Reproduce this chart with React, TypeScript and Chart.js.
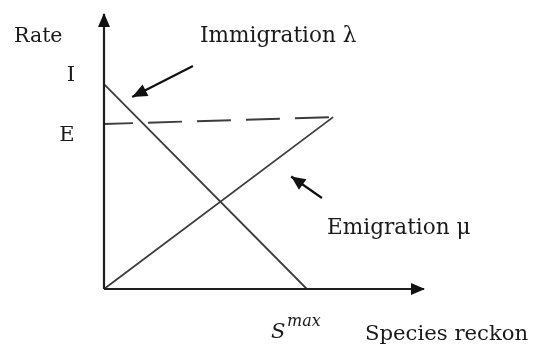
import React, { useEffect, useRef } from "react";
import { Chart, registerables } from "chart.js";

Chart.register(...registerables);

// Data (x = species count, y = rate), in chart units
const immigration = [
  { x: 0, y: 74.5 },
  { x: 63.4, y: 0 },
];
const emigration = [
  { x: 0, y: 0 },
  { x: 71.6, y: 62.5 },
];
const equilibriumE = [
  { x: 0, y: 60 },
  { x: 71.6, y: 62.5 },
];
const yAxisLine = [
  { x: 0, y: 0 },
  { x: 0, y: 100 },
];
const xAxisLine = [
  { x: 0, y: 0 },
  { x: 100, y: 0 },
];
const immigrationPointer = [
  { x: 27.8, y: 81.1 },
  { x: 8.8, y: 69.8 },
];
const emigrationPointer = [
  { x: 68.1, y: 33.1 },
  { x: 58.5, y: 40.9 },
];
const yLabel = "Rate";
const xLabel = "Species reckon";
const immigrationLabel = "Immigration λ";
const emigrationLabel = "Emigration μ";
const tickI = "I";
const tickE = "E";
const sMaxBase = "S";
const sMaxSup = "max";

const FONT = '"DejaVu Serif", serif';

function arrowHead(ctx: CanvasRenderingContext2D, fx: number, fy: number, tx: number, ty: number, len: number, half: number, color: string) {
  const a = Math.atan2(ty - fy, tx - fx);
  ctx.save();
  ctx.fillStyle = color;
  ctx.beginPath();
  ctx.moveTo(tx, ty);
  ctx.lineTo(tx - len * Math.cos(a) + half * Math.sin(a), ty - len * Math.sin(a) - half * Math.cos(a));
  ctx.lineTo(tx - len * Math.cos(a) - half * Math.sin(a), ty - len * Math.sin(a) + half * Math.cos(a));
  ctx.closePath();
  ctx.fill();
  ctx.restore();
}

const decorPlugin = {
  id: "decor",
  afterDatasetsDraw(chart: any) {
    const ctx: CanvasRenderingContext2D = chart.ctx;
    const xs = chart.scales.x;
    const ys = chart.scales.y;
    const px = (v: number) => xs.getPixelForValue(v);
    const py = (v: number) => ys.getPixelForValue(v);

    // axis arrowheads
    arrowHead(ctx, px(yAxisLine[0].x), py(yAxisLine[0].y), px(yAxisLine[1].x), py(yAxisLine[1].y) - 1, 14, 6, "#111");
    arrowHead(ctx, px(xAxisLine[0].x), py(xAxisLine[0].y), px(xAxisLine[1].x) + 1, py(xAxisLine[1].y), 14, 6, "#111");
    // pointer arrowheads
    arrowHead(ctx, px(immigrationPointer[0].x), py(immigrationPointer[0].y), px(immigrationPointer[1].x), py(immigrationPointer[1].y), 15, 6.5, "#111");
    arrowHead(ctx, px(emigrationPointer[0].x), py(emigrationPointer[0].y), px(emigrationPointer[1].x), py(emigrationPointer[1].y), 14, 6.5, "#111");

    ctx.save();
    ctx.fillStyle = "#1a1a1a";
    ctx.textBaseline = "middle";
    ctx.textAlign = "left";
    ctx.font = `20.5px ${FONT}`;
    ctx.fillText(yLabel, 14, 37);
    ctx.font = `21.6px ${FONT}`;
    ctx.fillText(immigrationLabel, 200, 36);
    ctx.fillText(emigrationLabel, 327, 228);
    ctx.textAlign = "center";
    ctx.font = `21px ${FONT}`;
    ctx.fillText(tickI, 71, 76);
    ctx.fillText(tickE, 67, 136);
    ctx.textAlign = "left";
    ctx.textBaseline = "alphabetic";
    ctx.font = `21.2px ${FONT}`;
    ctx.fillText(xLabel, 365, 340);
    ctx.font = `italic 21px ${FONT}`;
    ctx.fillText(sMaxBase, 271, 338);
    ctx.font = `italic 16px ${FONT}`;
    ctx.fillText(sMaxSup, 287, 326);
    ctx.restore();
  },
};

export default function App() {
  const ref = useRef<HTMLCanvasElement>(null);
  useEffect(() => {
    document.body.style.margin = "0";
    const lineDs = (data: any, color: string, width: number, extra: any = {}) => ({
      data,
      showLine: true,
      borderColor: color,
      borderWidth: width,
      pointRadius: 0,
      clip: false,
      ...extra,
    });
    const chart = new Chart(ref.current!, {
      type: "scatter",
      data: {
        datasets: [
          lineDs(yAxisLine, "#1e1e1e", 2.2),
          lineDs(xAxisLine, "#1e1e1e", 2.2),
          lineDs(immigration, "#3c3c3c", 1.8),
          lineDs(emigration, "#3c3c3c", 1.8),
          lineDs(equilibriumE, "#3c3c3c", 1.9, { borderDash: [34, 15], borderDashOffset: 5 }),
          lineDs(immigrationPointer, "#111", 2.2),
          lineDs(emigrationPointer, "#111", 2.2),
        ] as any,
      },
      options: {
        animation: false,
        responsive: false,
        maintainAspectRatio: false,
        layout: { padding: { left: 104, right: 113, top: 14, bottom: 55 } },
        plugins: { legend: { display: false }, tooltip: { enabled: false } },
        scales: {
          x: { type: "linear", min: 0, max: 100, display: false },
          y: { type: "linear", min: 0, max: 100, display: false },
        },
      },
      plugins: [decorPlugin],
    });
    return () => chart.destroy();
  }, []);
  return (
    <div style={{ width: 537, height: 344, background: "#fff" }}>
      <canvas ref={ref} width={537} height={344} style={{ display: "block" }} />
    </div>
  );
}
